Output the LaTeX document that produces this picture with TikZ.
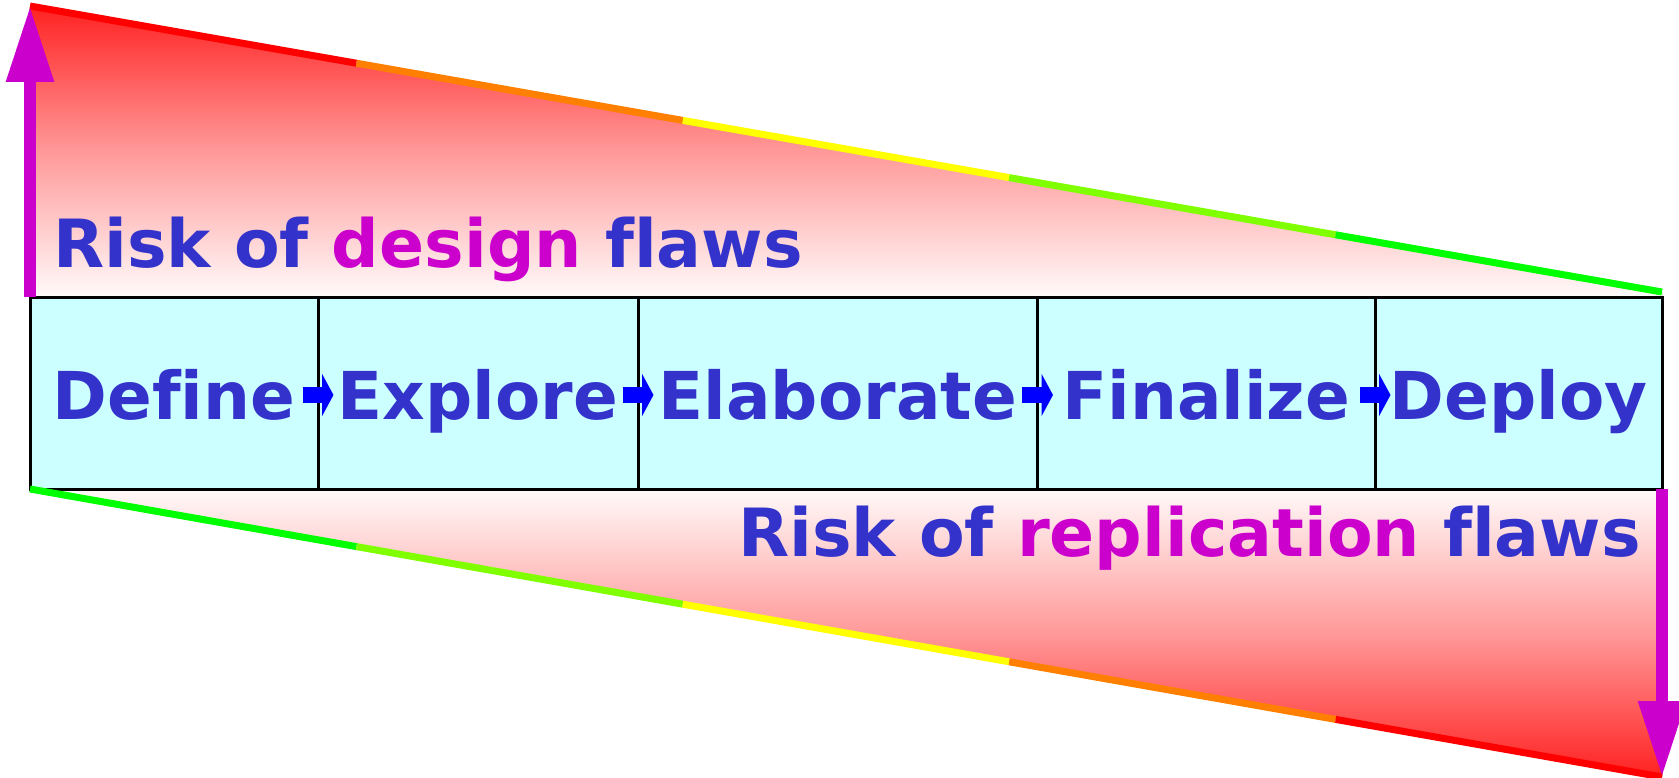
\documentclass[tikz,border=0pt]{standalone}
\usepackage{fontspec}
\setmainfont{DejaVu Sans}[Ligatures={NoCommon}]
\usetikzlibrary{arrows.meta,calc,backgrounds}

\definecolor{txtblue}{HTML}{3333CC}
\definecolor{hilite}{HTML}{CC00CC}
\definecolor{stagefill}{HTML}{CCFFFF}
\definecolor{flowblue}{HTML}{0000FF}
\definecolor{lvred}{HTML}{FF0000}
\definecolor{lvorange}{HTML}{FF8000}
\definecolor{lvyellow}{HTML}{FFFF00}
\definecolor{lvlime}{HTML}{80FF00}
\definecolor{lvgreen}{HTML}{00FF00}

\begin{document}
\begin{tikzpicture}[x=1pt,y=-1pt,
  stage/.style={draw=black, line width=3pt, fill=stagefill, minimum height=192pt,
    inner sep=0pt, outer sep=0pt, text=txtblue,
    font=\fontsize{66pt}{80pt}\selectfont\bfseries,
    text height=60pt, text depth=8pt},
  risklabel/.style={inner sep=0pt, text=txtblue,
    font=\fontsize{66.5pt}{80pt}\selectfont\bfseries},
  flow/.style={draw=flowblue, line width=16pt,
    -{Triangle[length=11.5pt, width=42pt]}},
  riskarrow/.style={draw=hilite, line width=12pt,
    -{Triangle[length=76pt, width=45pt]}},
  edge/.style={line width=7pt, line cap=butt},
  wedge up/.style={top color=lvred!87!white, bottom color=lvred!2!white,
    middle color=lvred!40!white},
  wedge down/.style={top color=lvred!2!white, bottom color=lvred!87!white,
    middle color=lvred!40!white}]

\useasboundingbox (0,0) rectangle (1679,778);

% apexes of the two risk wedges
\coordinate (tl) at (30,6);
\coordinate (tr) at (1662,292);
\coordinate (br) at (1662,777);

% process stages
\node[stage, minimum width=288pt]   (b1) at (174,393)     {Define};
\node[stage, minimum width=320pt]   (b2) at (478,393)     {Explore};
\node[stage, minimum width=399.5pt] (b3) at (837.75,393)  {Elaborate};
\node[stage, minimum width=337.5pt] (b4) at (1206.25,393) {Finalize};
\node[stage, minimum width=287pt]   (b5) at (1518.5,393)  {Deploy};

% shaded wedges behind the stages
\begin{scope}[on background layer]
  \fill[wedge up] (tl) -- (tr) -- (b5.north east) -- (b1.north west) -- cycle;
  \fill[wedge down] (b1.south west) -- (b5.south east) -- (br) -- cycle;
\end{scope}

% coloured wedge edges
\foreach \c/\a/\b in {lvred/0/0.2, lvorange/0.2/0.4, lvyellow/0.4/0.6, lvlime/0.6/0.8, lvgreen/0.8/1}
  \draw[edge, \c] ($(tl)!\a!(tr)$) -- ($(tl)!\b!(tr)$);
\foreach \c/\a/\b in {lvgreen/0/0.2, lvlime/0.2/0.4, lvyellow/0.4/0.6, lvorange/0.6/0.8, lvred/0.8/1}
  \draw[edge, \c] ($(b1.south west)!\a!(br)$) -- ($(b1.south west)!\b!(br)$);

% risk direction arrows
\draw[riskarrow] (b1.north west) -- (tl);
\draw[riskarrow] (b5.south east) -- (br);

% flow between stages
\draw[flow] ([xshift=-15.5pt, yshift=-2pt]b1.east) -- ([xshift=15.5pt, yshift=-2pt]b2.west);
\draw[flow] ([xshift=-15.5pt, yshift=-2pt]b2.east) -- ([xshift=15.5pt, yshift=-2pt]b3.west);
\draw[flow] ([xshift=-15.5pt, yshift=-2pt]b3.east) -- ([xshift=15.5pt, yshift=-2pt]b4.west);
\draw[flow] ([xshift=-15.5pt, yshift=-2pt]b4.east) -- ([xshift=15.5pt, yshift=-2pt]b5.west);

% risk labels
\node[risklabel, anchor=base west] (design) at (53,268)
  {Risk of \textcolor{hilite}{design} flaws};
\node[risklabel, anchor=base east] (replication) at (1641,556)
  {Risk of \textcolor{hilite}{replication} flaws};
\end{tikzpicture}
\end{document}
